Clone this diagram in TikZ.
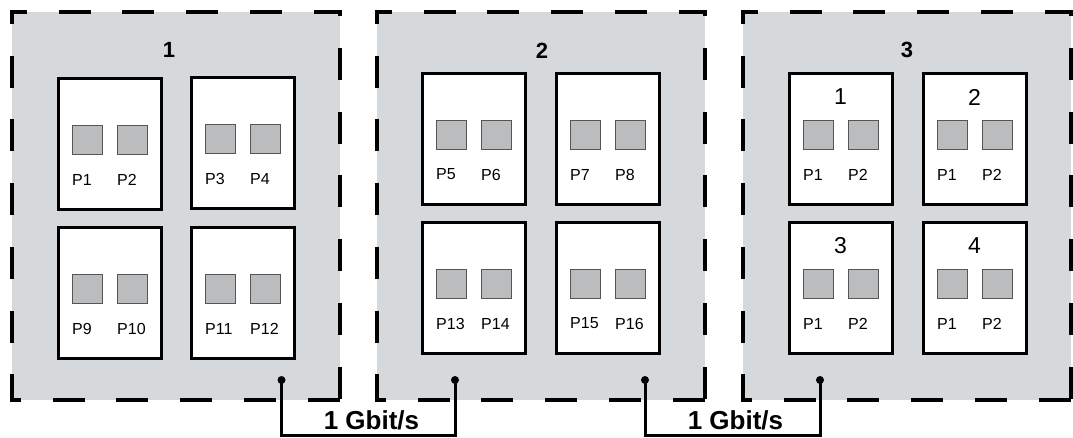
\documentclass[tikz,border=0pt]{standalone}
\usepackage{fontspec}
\setmainfont{Liberation Sans}
\definecolor{panelgray}{RGB}{214,217,220}
\definecolor{portgray}{RGB}{187,188,189}
\definecolor{portedge}{RGB}{85,85,85}
\tikzset{
  panelbg/.style={rectangle, fill=panelgray, inner sep=0pt, outer sep=0pt,
    minimum width=328pt, minimum height=388pt, anchor=north west},
  dashedge/.style={line width=4pt, line cap=rect, dash pattern=on 28pt off 35.7pt},
  boardbox/.style={rectangle, draw=black, fill=white, line width=3pt, inner sep=0pt,
    outer sep=0pt, minimum width=103pt, minimum height=131pt, anchor=north west},
  port/.style={rectangle, draw=portedge, fill=portgray, line width=1pt, inner sep=0pt,
    outer sep=0pt, minimum width=30pt, minimum height=29pt, anchor=north west},
  plabel/.style={anchor=west, inner sep=0pt, font=\fontsize{16}{16}\selectfont},
  panellabel/.style={inner sep=0pt, font=\fontsize{22}{22}\selectfont\bfseries},
  boardnum/.style={inner sep=0pt, font=\fontsize{23}{23}\selectfont},
  speed/.style={inner sep=0pt, font=\fontsize{26}{26}\selectfont\bfseries},
  link/.style={line width=3pt},
  dot/.style={circle, fill=black, inner sep=0pt, minimum size=8pt},
}
\newcommand\boardat[5]{%
  \node[boardbox] (#1) at (#2,#3) {};
  \node[port] (#1pa) at ({#2+14},{#3+47}) {};
  \node[port] (#1pb) at ({#2+59},{#3+47}) {};
  \node[plabel] (#1la) at ({#2+14},{#3+101.5}) {#4};
  \node[plabel] (#1lb) at ({#2+59},{#3+101.5}) {#5};
}
\newcommand\panelat[2]{%
  \node[panelbg] (#1) at (#2,12) {};
  \draw[dashedge, dash phase=15pt] (#1.north west) -- (#1.north east);
  \draw[dashedge, dash phase=25.7pt] (#1.north east) -- (#1.south east);
  \draw[dashedge, dash phase=21pt] (#1.south west) -- (#1.south east);
  \draw[dashedge, dash phase=18pt] (#1.north west) -- (#1.south west);
}
\begin{document}
\begin{tikzpicture}[x=1pt,y=-1pt]
\useasboundingbox (0,0) rectangle (1073,437);
\fill[white] (0,0) rectangle (1073,437);

% panels
\panelat{pan1}{12}
\panelat{pan2}{377}
\panelat{pan3}{743}
\node[panellabel] (pan1lab) at (169,50) {1};
\node[panellabel] (pan2lab) at (542,51) {2};
\node[panellabel] (pan3lab) at (907,50) {3};

% panel 1
\boardat{a1}{58}{78}{P1}{P2}
\boardat{a2}{191}{77}{P3}{P4}
\boardat{a3}{58}{227}{P9}{P10}
\boardat{a4}{191}{227}{P11}{P12}

% panel 2
\boardat{b1}{422}{73}{P5}{P6}
\boardat{b2}{556}{73}{P7}{P8}
\boardat{b3}{422}{222}{P13}{P14}
\boardat{b4}{556}{222}{P15}{P16}

% panel 3
\boardat{c1}{789}{73}{P1}{P2}
\boardat{c2}{923}{73}{P1}{P2}
\boardat{c3}{789}{222}{P1}{P2}
\boardat{c4}{923}{222}{P1}{P2}
\node[boardnum] (c1n) at (840.5,97) {1};
\node[boardnum] (c2n) at (974.5,97) {2};
\node[boardnum] (c3n) at (840.5,246) {3};
\node[boardnum] (c4n) at (974.5,246) {4};

% links
\coordinate (base) at (0,435.5);
\node[dot] (d1) at (281.5,380) {};
\node[dot] (d2) at (455,380) {};
\node[dot] (d3) at (645,380) {};
\node[dot] (d4) at (820,380) {};
\draw[link] (d1.center) -- (d1.center |- base) -- (d2.center |- base) -- (d2.center);
\draw[link] (d3.center) -- (d3.center |- base) -- (d4.center |- base) -- (d4.center);
\node[speed] (s1) at (371.5,420) {1 Gbit/s};
\node[speed] (s2) at (735.5,420) {1 Gbit/s};
\end{tikzpicture}
\end{document}
